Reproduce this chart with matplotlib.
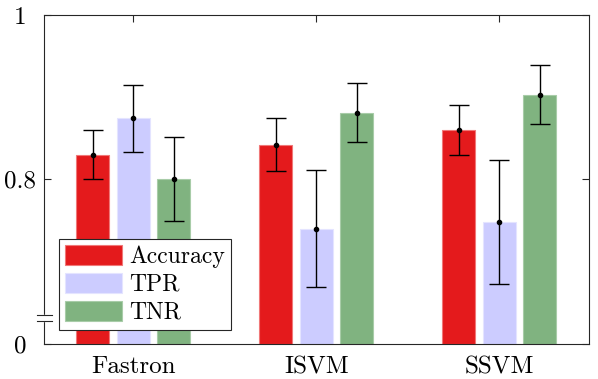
import matplotlib.pyplot as plt
import numpy as np

plt.rcParams['font.family'] = ['cmr10', 'DejaVu Serif']
plt.rcParams['axes.formatter.use_mathtext'] = True
plt.rcParams['mathtext.fontset'] = 'cm'

methods = ['Fastron', 'ISVM', 'SSVM']
metrics = ['Accuracy', 'TPR', 'TNR']
# mean values (axis shown from 0.6 to 1, with a break: bottom labelled 0)
accuracy = [0.830, 0.842, 0.860]
tpr = [0.874, 0.740, 0.748]
tnr = [0.800, 0.881, 0.903]
# error half-widths
acc_err = [0.030, 0.032, 0.030]
tpr_err = [0.041, 0.071, 0.076]
tnr_err = [0.051, 0.036, 0.036]

values = [accuracy, tpr, tnr]
errors = [acc_err, tpr_err, tnr_err]
colors = ['#e41a1c', '#ccccff', '#80b380']
edges = ['#f07878', '#e4e4ff', '#a8cca8']

ymin = 0.6

fig = plt.figure(figsize=(5.98, 3.79), dpi=100)
ax = fig.add_axes([44/598, 1 - 343.5/379, 545/598, 328.5/379])

x = np.arange(1, len(methods) + 1)
offs = [-0.222, 0.0, 0.222]
w = 0.18
for vals, errs, c, ec, o, lab in zip(values, errors, colors, edges, offs, metrics):
    v = np.array(vals)
    ax.bar(x + o, v - ymin, bottom=ymin, width=w, color=c, edgecolor=ec,
           linewidth=0.8, label=lab, zorder=2)
    ax.errorbar(x + o, v, yerr=errs, fmt='o', color='black', ms=3,
                capsize=7.5, elinewidth=1, capthick=1, zorder=3)

ax.set_xlim(0.512, 3.49)
ax.set_ylim(ymin, 1)
ax.set_xticks(x)
ax.set_xticklabels(methods)
ax.set_yticks([0.6, 0.8, 1.0])
ax.set_yticklabels(['0', '0.8', '1'])
ax.tick_params(direction='in', top=True, right=True, length=5, width=0.8,
               labelsize=18, color='#262626')
ax.tick_params(axis='x', pad=9)
ax.tick_params(axis='y', pad=17)
for t in ax.get_yticklabels():
    t.set_horizontalalignment('center')
for s in ax.spines.values():
    s.set_color('#262626')
    s.set_linewidth(0.8)

# axis break marker
xa0, xa1 = -7/545, 8/545
ax.fill_between([xa0, xa1], [0.627, 0.627], [0.635, 0.635], color='white',
                transform=ax.get_yaxis_transform(), clip_on=False, zorder=5)
for yb in [0.627, 0.635]:
    ax.plot([xa0, xa1], [yb, yb], color='#262626', lw=0.8,
            transform=ax.get_yaxis_transform(), clip_on=False, zorder=6)

leg = ax.legend(loc='lower left', bbox_to_anchor=(0.028, 0.042), fontsize=17,
                handlelength=2.4, handleheight=0.93, labelspacing=0.2,
                borderpad=0.25, handletextpad=0.3, borderaxespad=0,
                fancybox=False, framealpha=1, edgecolor='#262626')
leg.get_frame().set_linewidth(0.8)
leg.set_zorder(10)

fig.savefig('out.png', dpi=100)
